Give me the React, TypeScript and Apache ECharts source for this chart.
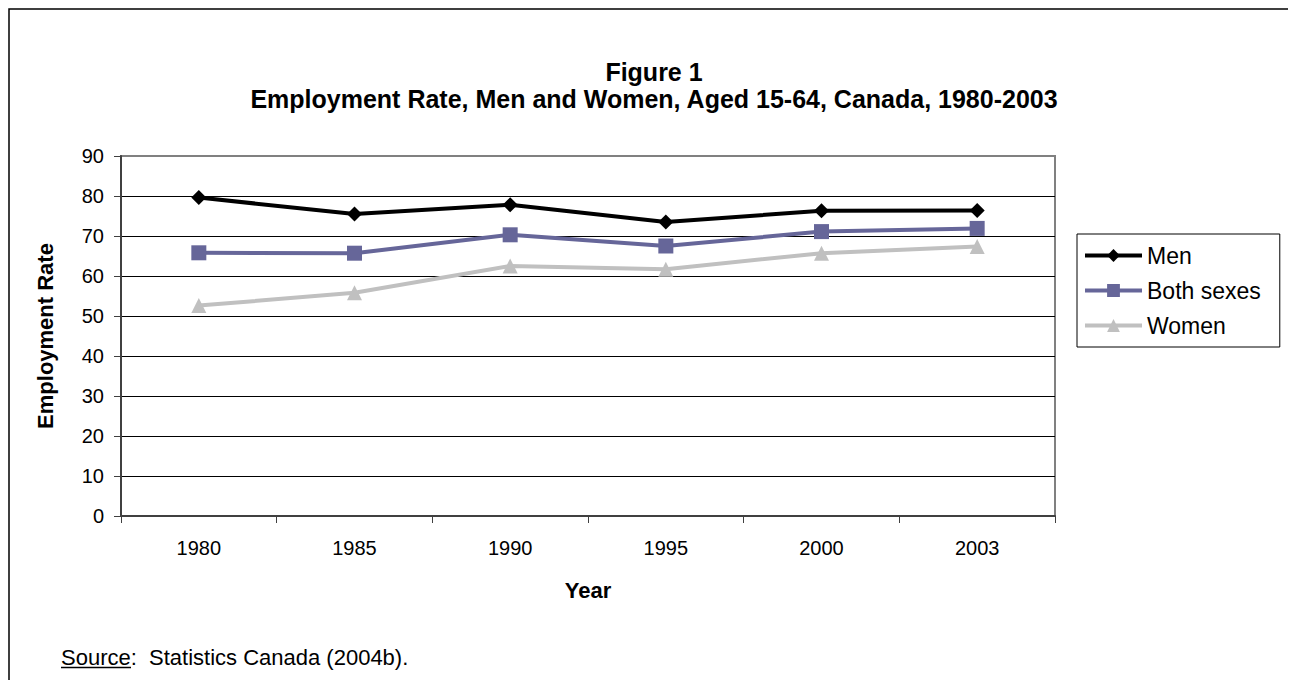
import React, { useEffect, useRef } from "react";
import * as echarts from "echarts";

const years = ["1980", "1985", "1990", "1995", "2000", "2003"];
const men = [79.6, 75.5, 77.8, 73.5, 76.3, 76.4];
const bothSexes = [65.8, 65.7, 70.3, 67.5, 71.1, 71.9];
const women = [52.6, 55.8, 62.5, 61.7, 65.7, 67.4];

const titleLines = ["Figure 1", "Employment Rate, Men and Women, Aged 15-64, Canada, 1980-2003"];

const FONT = "'Liberation Sans', Arial, Helvetica, sans-serif";

export default function App() {
  const ref = useRef<HTMLDivElement>(null);
  useEffect(() => {
    if (!ref.current) return;
    const chart = echarts.init(ref.current, undefined, { renderer: "svg" });
    chart.setOption({
      animation: false,
      backgroundColor: "#ffffff",
      textStyle: { fontFamily: FONT },
      grid: {
        left: 113,
        top: 148,
        width: 934,
        height: 360,
        show: true,
        borderColor: "#808080",
        borderWidth: 2,
        backgroundColor: "#ffffff",
      },
      legend: {
        orient: "vertical",
        left: 1069,
        top: 226,
        borderColor: "#000",
        borderWidth: 1,
        padding: [10, 19, 10, 6],
        itemGap: 12,
        itemWidth: 57,
        itemHeight: 16,
        lineStyle: { width: "inherit" },
        textStyle: { fontFamily: FONT, fontSize: 23, color: "#000" },
        data: ["Men", "Both sexes", "Women"],
      },
      xAxis: {
        type: "category",
        data: years,
        boundaryGap: true,
        name: "Year",
        nameLocation: "middle",
        nameGap: 63,
        nameTextStyle: { fontFamily: FONT, fontSize: 22, fontWeight: "bold", color: "#000" },
        axisLine: { show: true, lineStyle: { color: "#404040", width: 2 } },
        axisTick: { show: true, inside: false, length: 7, alignWithLabel: false, lineStyle: { color: "#404040", width: 1 } },
        axisLabel: { fontFamily: FONT, fontSize: 20, color: "#000", margin: 22 },
        splitLine: { show: false },
      },
      yAxis: {
        type: "value",
        min: 0,
        max: 90,
        interval: 10,
        name: "Employment Rate",
        nameLocation: "middle",
        nameRotate: 90,
        nameGap: 65,
        nameTextStyle: { fontFamily: FONT, fontSize: 22, fontWeight: "bold", color: "#000" },
        axisLine: { show: true, lineStyle: { color: "#404040", width: 2 } },
        axisTick: { show: true, inside: false, length: 7, lineStyle: { color: "#404040", width: 1 } },
        axisLabel: { fontFamily: FONT, fontSize: 20, color: "#000", margin: 17 },
        splitLine: {
          show: true,
          lineStyle: {
            color: ["#000", "#000", "#000", "#000", "#000", "#000", "#000", "#000", "#000", "#808080"],
            width: 1,
          },
        },
      },
      series: [
        {
          name: "Men",
          type: "line",
          data: men,
          symbol: "diamond",
          symbolSize: 15,
          lineStyle: { color: "#000000", width: 4 },
          itemStyle: { color: "#000000" },
          z: 4,
        },
        {
          name: "Both sexes",
          type: "line",
          data: bothSexes,
          symbol: "rect",
          symbolSize: 15,
          lineStyle: { color: "#666699", width: 4 },
          itemStyle: { color: "#666699" },
          z: 3,
        },
        {
          name: "Women",
          type: "line",
          data: women,
          symbol: "triangle",
          symbolSize: 15,
          lineStyle: { color: "#C0C0C0", width: 4 },
          itemStyle: { color: "#C0C0C0" },
          z: 2,
        },
      ],
      graphic: [
        {
          type: "rect",
          silent: true,
          z: -10,
          shape: { x: 1, y: 1, width: 1286, height: 800 },
          style: { fill: "none", stroke: "#000", lineWidth: 1.5 },
        },
        {
          type: "text",
          x: 646,
          y: 64,
          style: {
            text: titleLines[0],
            fontFamily: FONT,
            fontSize: 25,
            fontWeight: "bold",
            fill: "#000",
            align: "center",
            verticalAlign: "middle",
          },
        },
        {
          type: "text",
          x: 646,
          y: 91,
          style: {
            text: titleLines[1],
            fontFamily: FONT,
            fontSize: 25,
            fontWeight: "bold",
            fill: "#000",
            align: "center",
            verticalAlign: "middle",
          },
        },
        {
          type: "text",
          left: 53,
          top: 638,
          style: {
            text: "Source:  Statistics Canada (2004b).",
            fontFamily: FONT,
            fontSize: 22,
            fill: "#000",
          },
        },
        {
          type: "line",
          shape: { x1: 53, y1: 659.5, x2: 123, y2: 659.5 },
          style: { stroke: "#000", lineWidth: 1.5 },
        },
      ],
    });
    return () => chart.dispose();
  }, []);
  return <div ref={ref} style={{ width: 1288, height: 672 }} />;
}
